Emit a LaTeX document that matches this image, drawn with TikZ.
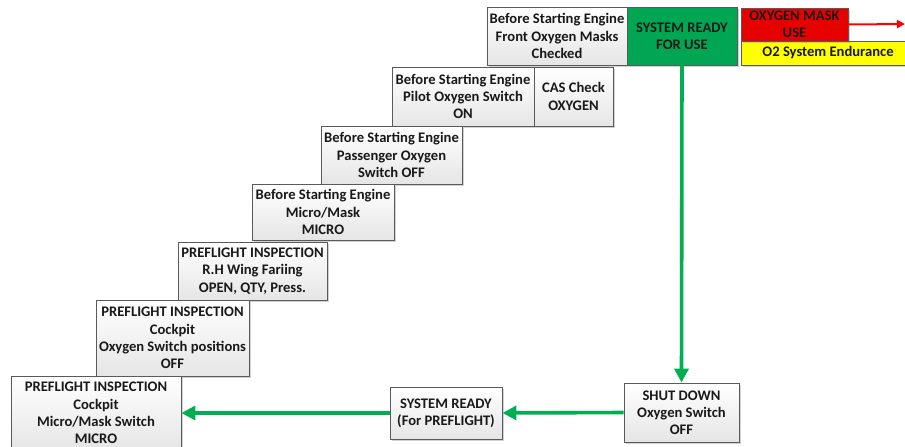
\documentclass[tikz,border=0pt]{standalone}
\usepackage{fontspec}
\setmainfont{Carlito}
\usetikzlibrary{shadows,arrows.meta}
\definecolor{grn}{RGB}{0,176,80}
\definecolor{boxgreen}{RGB}{0,166,81}
\definecolor{boxred}{RGB}{230,0,0}
\definecolor{boxyellow}{RGB}{255,255,0}
\definecolor{edge}{RGB}{90,90,90}
\tikzset{
  base/.style={draw=edge, line width=0.9pt, align=center, inner sep=1pt,
    font=\fontsize{14.6}{17.2}\selectfont\bfseries, text=black!90,
    drop shadow={shadow xshift=2pt, shadow yshift=-2pt, opacity=0.35, fill=gray}},
  box/.style={base, top color=white, bottom color=black!10},
  greenbox/.style={base, fill=boxgreen},
  redbox/.style={base, fill=boxred, font=\fontsize{14.6}{16.5}\selectfont\bfseries},
  yellowbox/.style={base, fill=boxyellow},
  garrow/.style={draw=grn, line width=3.6pt, -{Triangle[length=14pt,width=14pt]}},
  rarrow/.style={draw=red, line width=2pt, -{Triangle[length=8pt,width=8pt]}}
}
\begin{document}
\begin{tikzpicture}[x=1pt,y=-1pt]
\clip (0,0) rectangle (905,447);
\fill[white] (0,0) rectangle (905,447);

\node[box, minimum width=140pt, minimum height=58pt] (front) at (557,36)
  {Before Starting Engine\\Front Oxygen Masks\\Checked};
\node[greenbox, minimum width=110pt, minimum height=58pt] (ready) at (682,36)
  {SYSTEM READY\\FOR USE};
\node[yellowbox, minimum width=174pt, minimum height=24pt] (endur) at (828,53)
  {O2 System Endurance};
\node[redbox, minimum width=107pt, minimum height=33pt] (mask) at (794.5,24.5)
  {OXYGEN MASK\\USE};
\node[box, minimum width=142pt, minimum height=59pt] (pilot) at (463,96.5)
  {Before Starting Engine\\Pilot Oxygen Switch\\ON};
\node[box, minimum width=79pt, minimum height=59pt] (cas) at (573.5,96.5)
  {CAS Check\\OXYGEN};
\node[box, minimum width=141pt, minimum height=58pt] (pass) at (391.5,155)
  {Before Starting Engine\\Passenger Oxygen\\Switch OFF};
\node[box, minimum width=142pt, minimum height=56pt] (micro) at (323,212)
  {Before Starting Engine\\Micro/Mask\\MICRO};
\node[box, minimum width=149pt, minimum height=58pt] (wing) at (252.5,271)
  {PREFLIGHT INSPECTION\\R.H Wing Fariing\\OPEN, QTY, Press.};
\node[box, minimum width=153pt, minimum height=76pt] (cksw) at (172.5,338)
  {PREFLIGHT INSPECTION\\Cockpit\\Oxygen Switch positions\\OFF};
\node[box, minimum width=170pt, minimum height=74pt] (ckmm) at (96,413)
  {PREFLIGHT INSPECTION\\Cockpit\\Micro/Mask Switch\\MICRO};
\node[box, minimum width=112pt, minimum height=52pt] (sysr) at (446,413)
  {SYSTEM READY\\(For PREFLIGHT)};
\node[box, minimum width=115pt, minimum height=59pt] (shut) at (681.5,412.5)
  {SHUT DOWN\\Oxygen Switch\\OFF};

\coordinate (rend) at (905,24);
\draw[rarrow] (mask.east) -- (rend);

\draw[garrow] (ready.south) -- (shut.north);
\draw[garrow] (shut.west) -- (sysr.east);
\draw[garrow] (sysr.west) -- (ckmm.east);
\end{tikzpicture}
\end{document}
